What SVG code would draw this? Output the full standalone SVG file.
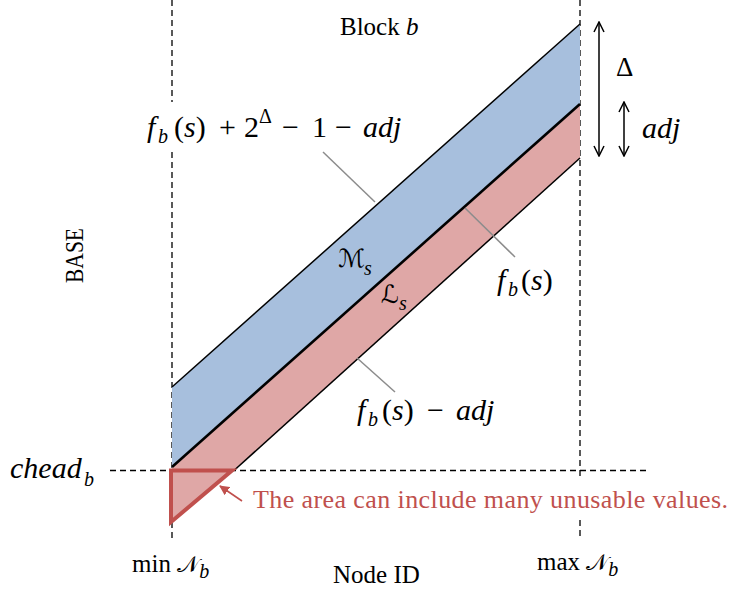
<svg xmlns="http://www.w3.org/2000/svg" width="731" height="592" viewBox="0 0 731 592">
<defs>
<style>
.dash{stroke:#000;stroke-width:1.3;stroke-dasharray:6 4;fill:none}
.edge{stroke:#000;stroke-width:1.5;fill:none}
.lead{stroke:#8c8c8c;stroke-width:1.5;fill:none}
.t{font-family:"Liberation Serif","DejaVu Serif",serif;fill:#000}
.m{font-family:"Liberation Serif","DejaVu Serif",serif;font-style:italic;fill:#000}
.up{font-style:normal}
.sub{font-size:20px}
.cal{font-family:"DejaVu Sans","Noto Sans",serif;font-style:normal}
</style>
<marker id="open" viewBox="0 0 12 12" refX="11" refY="6" markerWidth="12" markerHeight="12" markerUnits="userSpaceOnUse" orient="auto-start-reverse">
<path d="M1,1 L11,6 L1,11" fill="none" stroke="#000" stroke-width="1.5"/>
</marker>
<marker id="redhead" viewBox="0 0 10 10" refX="9" refY="5" markerWidth="10" markerHeight="10" markerUnits="userSpaceOnUse" orient="auto">
<path d="M0,0 L10,5 L0,10 Z" fill="#C0504D"/>
</marker>
</defs>
<rect width="731" height="592" fill="#fff"/>

<g id="guides">
<line class="dash" x1="172" y1="0" x2="172" y2="102"/>
<line class="dash" x1="172" y1="152" x2="172" y2="538"/>
<line class="dash" x1="580" y1="0" x2="580" y2="477"/>
<line class="dash" x1="580" y1="520" x2="580" y2="538"/>
<line class="dash" x1="110" y1="470.5" x2="649" y2="470.5"/>
</g>

<g id="band-M">
<polygon points="172,387 580,24 580,105 172,467" fill="#A7BFDD"/>
<line class="edge" x1="172" y1="387" x2="580" y2="24"/>
</g>
<g id="band-L">
<polygon points="172,467 580,105 580,158 234,470.5 172,470.5" fill="#DFA7A6"/>
<line class="edge" x1="234" y1="470.5" x2="580" y2="158"/>
<line x1="172" y1="467" x2="580" y2="104" stroke="#000" stroke-width="2.6"/>
</g>
<g id="unusable-area">
<polygon points="171,470.5 232,470.5 171,522" fill="#DFA7A6" stroke="#C0504D" stroke-width="4" stroke-linejoin="miter"/>
</g>

<g id="connectors">
<line class="lead" x1="323" y1="152" x2="375" y2="202"/>
<line class="lead" x1="465" y1="208" x2="515" y2="257"/>
<line class="lead" x1="357" y1="358" x2="395" y2="392"/>
<line x1="599" y1="22" x2="599" y2="156" stroke="#000" stroke-width="1.5" marker-start="url(#open)" marker-end="url(#open)"/>
<line x1="624" y1="102" x2="624" y2="156" stroke="#000" stroke-width="1.5" marker-start="url(#open)" marker-end="url(#open)"/>
<line x1="242" y1="501" x2="220" y2="486" stroke="#C0504D" stroke-width="1.6" marker-end="url(#redhead)"/>
</g>

<g id="labels">
<text class="t" x="340" y="35" font-size="25">Block <tspan class="m">b</tspan></text>
<text class="t" font-size="25" transform="translate(83,255.5) rotate(-90)" text-anchor="middle" textLength="55" lengthAdjust="spacingAndGlyphs">BASE</text>
<text class="m" y="137" font-size="30"><tspan x="147">f</tspan><tspan class="sub" x="158" y="143">b</tspan><tspan class="up" x="174" y="137">(</tspan><tspan>s</tspan><tspan class="up">)</tspan><tspan class="up" x="219">+</tspan><tspan class="up" x="244">2</tspan><tspan class="up" x="259" y="123" font-size="20">Δ</tspan><tspan class="up" x="282" y="137">−</tspan><tspan class="up" x="312">1</tspan><tspan class="up" x="335">−</tspan><tspan x="363">adj</tspan></text>
<text class="t" x="616" y="76" font-size="27">Δ</text>
<text class="m" x="642" y="138" font-size="30">adj</text>
<text class="m" y="267" font-size="25"><tspan class="cal" x="338">ℳ</tspan><tspan class="sub" x="364" y="275">s</tspan></text>
<text class="m" y="303" font-size="25"><tspan class="cal" x="381">ℒ</tspan><tspan class="sub" x="399" y="310">s</tspan></text>
<text class="m" y="290" font-size="30"><tspan x="497">f</tspan><tspan class="sub" x="508" y="296">b</tspan><tspan class="up" x="521" y="290">(</tspan><tspan>s</tspan><tspan class="up">)</tspan></text>
<text class="m" y="420" font-size="30"><tspan x="357">f</tspan><tspan class="sub" x="368" y="426">b</tspan><tspan class="up" x="382" y="420">(</tspan><tspan>s</tspan><tspan class="up">)</tspan><tspan class="up" x="427">−</tspan><tspan x="456">adj</tspan></text>
<text class="m" y="478" font-size="30"><tspan x="10">chead</tspan><tspan class="sub" x="84" y="486">b</tspan></text>
<text class="t" x="132" y="572" font-size="25">min <tspan class="cal" font-style="italic" font-size="23">𝒩</tspan><tspan class="m sub" dy="6">b</tspan></text>
<text class="t" x="333" y="583" font-size="25">Node ID</text>
<text class="t" x="537" y="570" font-size="25">max <tspan class="cal" font-style="italic" font-size="23">𝒩</tspan><tspan class="m sub" dy="6">b</tspan></text>
<text class="t" x="253" y="508" font-size="26" fill="#C0504D" style="fill:#C0504D" textLength="475" lengthAdjust="spacing">The area can include many unusable values.</text>
</g>
</svg>
